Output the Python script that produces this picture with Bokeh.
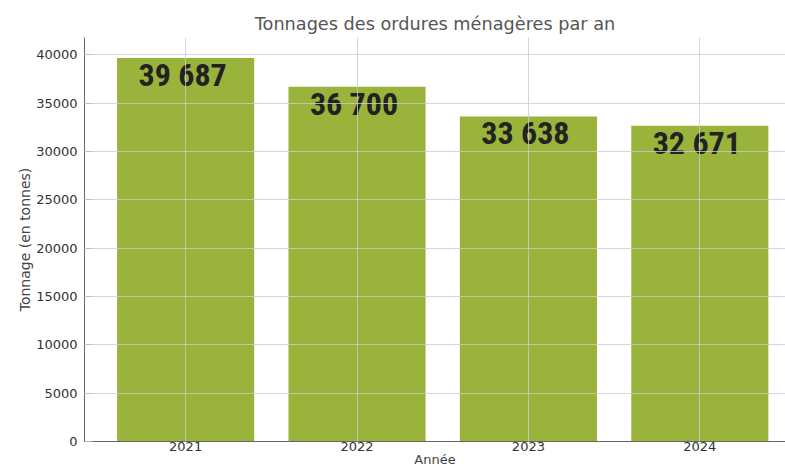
from bokeh.plotting import figure
from bokeh.models import ColumnDataSource, Range1d, FixedTicker
from bokeh.core.properties import value
from bokeh.embed import file_html
from bokeh.resources import INLINE

years = [2021, 2022, 2023, 2024]
tonnages = [39687, 36700, 33638, 32671]
labels = ["39 687", "36 700", "33 638", "32 671"]
y_ticks = [0, 5000, 10000, 15000, 20000, 25000, 30000, 35000, 40000]

src = ColumnDataSource(dict(x=years, top=tonnages, label=labels))

p = figure(width=785, height=469, output_backend="svg", toolbar_location=None,
           x_range=Range1d(2020.41, 2024.5), y_range=Range1d(0, 41800),
           min_border_left=84, min_border_right=0, min_border_top=37, min_border_bottom=28)
p.outline_line_color = None
p.background_fill_color = "white"

p.title.text = "Tonnages des ordures ménagères par an"
p.title.align = "center"
p.title.text_font = "DejaVu Sans"
p.title.text_font_size = "17.7px"
p.title.text_font_style = "normal"
p.title.text_color = "#555555"
p.title.standoff = 8

p.vbar(x="x", top="top", width=0.8, source=src, fill_color="#9ab33b",
       line_color=None, fill_alpha=1.0)

p.text(x="x", y="top", text="label", source=src, text_align="center",
       text_baseline="top", y_offset=-2, x_offset=-3,
       text_font=value("'Roboto Condensed', 'Liberation Sans Narrow', 'DejaVu Sans Condensed', sans-serif"),
       text_font_style="bold", text_font_size="32px", text_color="#222222")

for g in (p.xgrid, p.ygrid):
    g.grid_line_color = "#c9cad6"
    g.grid_line_alpha = 0.8
    g.level = "overlay"

p.xaxis.ticker = FixedTicker(ticks=years)
p.yaxis.ticker = FixedTicker(ticks=y_ticks)
p.xaxis.axis_label = "Année"
p.yaxis.axis_label = "Tonnage (en tonnes)"
for ax in (p.xaxis, p.yaxis):
    ax.axis_label_text_font = "DejaVu Sans"
    ax.axis_label_text_font_style = "normal"
    ax.axis_label_text_color = "#444444"
    ax.major_label_text_font = "DejaVu Sans"
    ax.major_label_text_font_size = "13px"
    ax.major_label_text_color = "#333333"
    ax.axis_line_color = "#666666"
    ax.major_tick_line_color = "#aaaaaa"
    ax.minor_tick_line_color = None
p.xaxis.axis_label_text_font_size = "13px"
p.yaxis.axis_label_text_font_size = "14px"
p.xaxis.major_tick_in = 0
p.xaxis.major_tick_out = 0
p.yaxis.major_tick_in = 8
p.yaxis.major_tick_out = 0
p.xaxis.major_label_standoff = 0
p.xaxis.axis_label_standoff = -2
p.yaxis.major_label_standoff = 7
p.yaxis.axis_label_standoff = 0
p.yaxis.formatter.use_scientific = False

open("out.html", "w").write(file_html(p, INLINE))
